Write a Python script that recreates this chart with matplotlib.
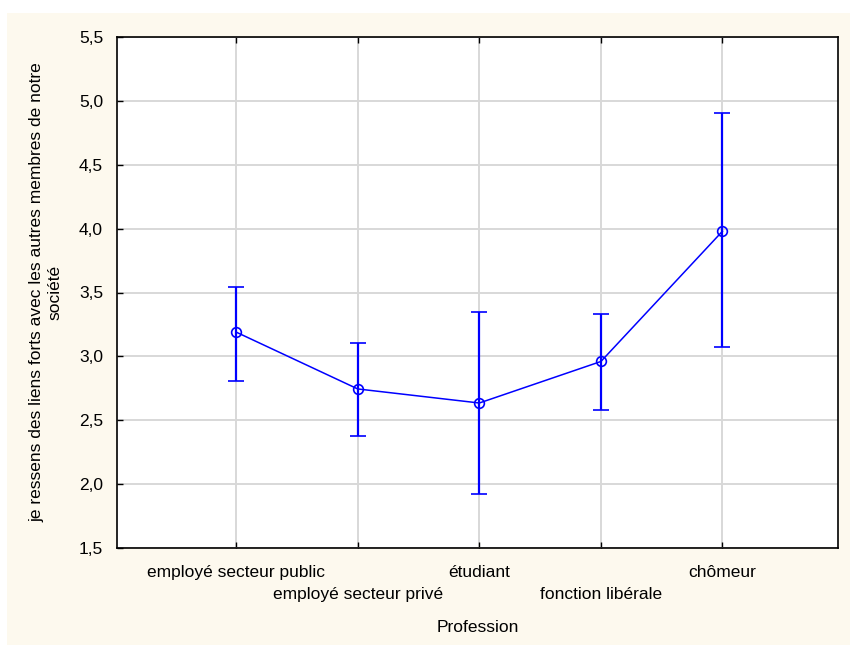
import numpy as np
import matplotlib
matplotlib.use("Agg")
import matplotlib.pyplot as plt
import matplotlib.transforms as mtransforms
from matplotlib.patches import Rectangle

plt.rcParams['font.family'] = ['Liberation Sans', 'DejaVu Sans']

# Data
professions = ['employé secteur public', 'employé secteur privé', 'étudiant',
               'fonction libérale', 'chômeur']
means = [3.19, 2.745, 2.635, 2.96, 3.98]
upper = [3.545, 3.105, 3.35, 3.33, 4.905]
lower = [2.81, 2.38, 1.925, 2.58, 3.07]
yticks = [1.5, 2.0, 2.5, 3.0, 3.5, 4.0, 4.5, 5.0, 5.5]
ytick_labels = ['1,5', '2,0', '2,5', '3,0', '3,5', '4,0', '4,5', '5,0', '5,5']

x = np.arange(len(professions))
means = np.array(means)
err = [means - np.array(lower), np.array(upper) - means]

fs = 12.5

fig = plt.figure(figsize=(8.5, 6.45), dpi=100, facecolor='#fdf9ee')
# white strip on top and left like the screenshot
fig.add_artist(Rectangle((0, 1 - 13 / 645), 1, 13 / 645, transform=fig.transFigure,
                         facecolor='white', edgecolor='none'))
fig.add_artist(Rectangle((0, 0), 7 / 850, 1, transform=fig.transFigure,
                         facecolor='white', edgecolor='none'))

ax = fig.add_axes([117 / 850, 1 - 548 / 645, (838 - 117) / 850, (548 - 37) / 645])
ax.set_facecolor('white')

ax.errorbar(x, means, yerr=err, color='#0000ff', linewidth=1.1, elinewidth=1.6,
            capsize=6, capthick=1.6, marker='o', markersize=7,
            markerfacecolor='none', markeredgecolor='#0000ff', markeredgewidth=1.2,
            zorder=3)

ax.set_xlim(-0.98, 4.95)
ax.set_ylim(1.5, 5.5)
ax.set_yticks(yticks)
ax.set_yticklabels(ytick_labels)
ax.set_xticks(x)
ax.set_xticklabels(professions)

ax.grid(True, color='#d8d8d8', linewidth=1.4)
ax.set_axisbelow(True)
for s in ax.spines.values():
    s.set_linewidth(1.2)
    s.set_color('black')

ax.tick_params(axis='both', direction='in', length=4, width=1.0, labelsize=fs,
               top=True, right=False, colors='black')
ax.tick_params(axis='x', pad=12)
ax.tick_params(axis='y', pad=10)

# stagger odd category labels onto a second row
offset = mtransforms.ScaledTranslation(0, -22 / 100, fig.dpi_scale_trans)
for i, lab in enumerate(ax.get_xticklabels()):
    if i % 2 == 1:
        lab.set_transform(lab.get_transform() + offset)

fig.text((117 + 838) / 2 / 850, 1 - 628 / 645, 'Profession', fontsize=fs,
         ha='center', va='center')
fig.text(46 / 850, 1 - 292 / 645,
         'je ressens des liens forts avec les autres membres de notre\nsociété',
         fontsize=fs, rotation=90, ha='center', va='center', multialignment='center',
         linespacing=1.25)

fig.savefig('out.png', dpi=100, facecolor=fig.get_facecolor())
